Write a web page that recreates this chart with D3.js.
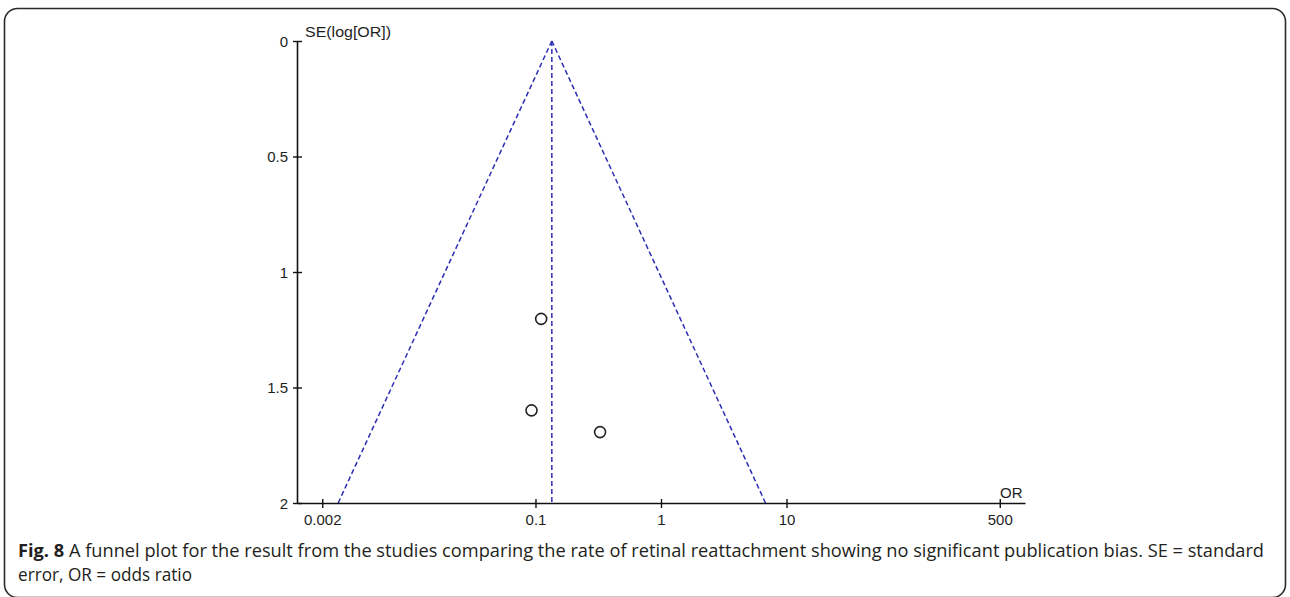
<!DOCTYPE html>
<html>
<head>
<meta charset="utf-8">
<script src="https://cdn.jsdelivr.net/npm/d3@7"></script>
<style>
  html, body { margin: 0; padding: 0; background: #fff; }
  svg { display: block; }
</style>
</head>
<body>
<svg id="chart" width="1290" height="597"></svg>
<script>
// ---- data ----
const studyOR = [0.111, 0.093, 0.327];
const studySE = [1.203, 1.599, 1.693];
const pooledOR = 0.135;
const xTickValues = [0.002, 0.1, 1, 10, 500];
const yTickValues = [0, 0.5, 1, 1.5, 2];
const xDomain = [Math.pow(10, -2.9), Math.pow(10, 2.9)];
const yDomain = [0, 2];
const yAxisTitle = "SE(log[OR])";
const xAxisTitle = "OR";
const captionBold = "Fig. 8";
const captionLine1 = " A funnel plot for the result from the studies comparing the rate of retinal reattachment showing no significant publication bias. SE = standard";
const captionLine2 = "error, OR = odds ratio";

const svg = d3.select("#chart");

// figure frame
svg.append("rect")
  .attr("x", 4.5).attr("y", 8.5)
  .attr("width", 1281).attr("height", 589)
  .attr("rx", 13).attr("ry", 13)
  .attr("fill", "none").attr("stroke", "#2a2a2a").attr("stroke-width", 1.6);

const x = d3.scaleLog().domain(xDomain).range([297, 1025]);
const y = d3.scaleLinear().domain(yDomain).range([41, 503]);

const labelFont = "'Liberation Sans', Arial, sans-serif";
const labelSize = "15px";
const funnelColor = "#2e2eb4";

// funnel lines
const z = 1.96;
const lnP = Math.log(pooledOR);
const seMax = yDomain[1];
const g = svg.append("g");
const funnelLines = [
  [[pooledOR, 0], [Math.exp(lnP - z * seMax), seMax]],
  [[pooledOR, 0], [Math.exp(lnP + z * seMax), seMax]],
  [[pooledOR, 0], [pooledOR, seMax]]
];
g.selectAll("line.funnel").data(funnelLines).join("line")
  .attr("class", "funnel")
  .attr("x1", d => x(d[0][0])).attr("y1", d => y(d[0][1]))
  .attr("x2", d => x(d[1][0])).attr("y2", d => y(d[1][1]))
  .attr("stroke", funnelColor).attr("stroke-width", 1.5)
  .attr("stroke-dasharray", "5,3");

// axes
const xAxis = d3.axisBottom(x).tickValues(xTickValues).tickFormat(d => String(d)).tickSizeOuter(0);
const yAxis = d3.axisLeft(y).tickValues(yTickValues).tickFormat(d => String(d)).tickSizeOuter(0);

const gx = svg.append("g").attr("transform", `translate(0,${y(2)})`).call(xAxis);
const gy = svg.append("g").attr("transform", `translate(${x(xDomain[0])},0)`).call(yAxis);

[gx, gy].forEach(a => {
  a.select(".domain").attr("stroke", "#111").attr("stroke-width", 1.6);
  a.selectAll(".tick line").attr("stroke", "#111").attr("stroke-width", 1.4);
  a.selectAll(".tick text").attr("fill", "#1e1e1e")
    .style("font-family", labelFont).style("font-size", labelSize);
});
gx.selectAll(".tick line").attr("y1", -4).attr("y2", 5);
gx.selectAll(".tick text").attr("y", 11).attr("dy", "0.71em");
gy.selectAll(".tick line").attr("x1", 5).attr("x2", -4);
gy.selectAll(".tick text").attr("x", -9).attr("dy", "0.36em");

// axis titles
svg.append("text").attr("x", 305).attr("y", 37)
  .style("font-family", labelFont).style("font-size", labelSize).attr("fill", "#1e1e1e")
  .attr("textLength", 86).attr("lengthAdjust", "spacingAndGlyphs")
  .text(yAxisTitle);
svg.append("text").attr("x", 1000).attr("y", 498)
  .style("font-family", labelFont).style("font-size", labelSize).attr("fill", "#1e1e1e")
  .text(xAxisTitle);

// points
svg.append("g").selectAll("circle").data(studyOR.map((d, i) => [d, studySE[i]])).join("circle")
  .attr("cx", d => x(d[0])).attr("cy", d => y(d[1])).attr("r", 5.5)
  .attr("fill", "none").attr("stroke", "#222").attr("stroke-width", 1.6);

// caption
const capFont = "'Liberation Sans Narrow', 'Open Sans', 'Noto Sans', sans-serif";
const cap1 = svg.append("text").attr("x", 18).attr("y", 557)
  .style("font-family", capFont).style("font-size", "18px").attr("fill", "#231f20")
  .attr("textLength", 1246).attr("lengthAdjust", "spacingAndGlyphs");
cap1.append("tspan").style("font-weight", "bold").text(captionBold);
cap1.append("tspan").text(captionLine1);
svg.append("text").attr("x", 18).attr("y", 581)
  .style("font-family", capFont).style("font-size", "18px").attr("fill", "#231f20")
  .attr("textLength", 174).attr("lengthAdjust", "spacingAndGlyphs")
  .text(captionLine2);
</script>
</body>
</html>
